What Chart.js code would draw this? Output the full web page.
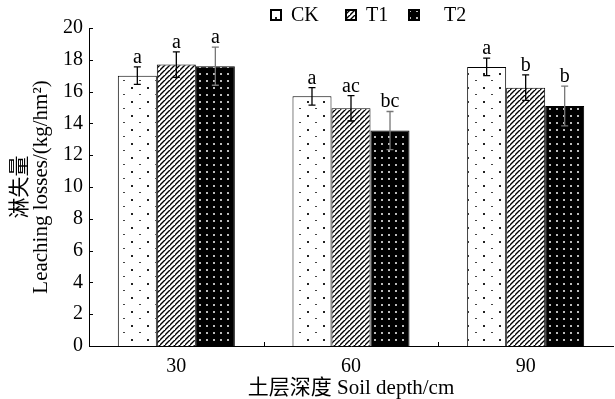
<!DOCTYPE html>
<html>
<head>
<meta charset="utf-8">
<script src="https://cdn.jsdelivr.net/npm/chart.js@4.4.1/dist/chart.umd.min.js"></script>
<style>
  html, body { margin: 0; padding: 0; background: #fff; }
  #wrap { width: 615px; height: 399px; }
</style>
</head>
<body>
<div id="wrap"><canvas id="leachChart"></canvas></div>
<script>
// Data
const depths = ['30', '60', '90'];
const treatments = ['CK', 'T1', 'T2'];
const ckValues = [17.0, 15.7, 17.55];
const t1Values = [17.7, 14.95, 16.25];
const t2Values = [17.6, 13.55, 15.1];
const ckErrors = [0.55, 0.55, 0.55];
const t1Errors = [0.8, 0.8, 0.8];
const t2Errors = [1.2, 1.2, 1.25];
const ckLetters = ['a', 'a', 'a'];
const t1Letters = ['a', 'ac', 'b'];
const t2Letters = ['a', 'bc', 'b'];
const yTicks = [0, 2, 4, 6, 8, 10, 12, 14, 16, 18, 20];

const serif = "'Liberation Serif', 'Noto Sans CJK SC', serif";

// Fill patterns for the bars
function makePattern(w, h, draw) {
    const c = document.createElement('canvas');
    c.width = w;
    c.height = h;
    const g = c.getContext('2d');
    draw(g, w, h);
    return document.createElement('canvas').getContext('2d').createPattern(c, 'repeat');
}

const ckPattern = makePattern(16, 14, function(g, w, h) {
    g.fillStyle = '#fff';
    g.fillRect(0, 0, w, h);
    g.fillStyle = '#222';
    g.fillRect(3, 3, 2, 2);
    g.fillStyle = '#444';
    g.fillRect(11, 10, 2, 1);
});

const t1Pattern = makePattern(5, 5, function(g, w, h) {
    g.fillStyle = '#fff';
    g.fillRect(0, 0, w, h);
    g.strokeStyle = '#000';
    g.lineWidth = 1.4;
    g.beginPath();
    g.moveTo(-1, h + 1);
    g.lineTo(w + 1, -1);
    g.moveTo(-1 - w, h + 1);
    g.lineTo(1, -1);
    g.moveTo(w - 1, 2 * h + 1);
    g.lineTo(2 * w + 1, h - 1);
    g.stroke();
});

const t2Pattern = makePattern(7, 7, function(g, w, h) {
    g.fillStyle = '#000';
    g.fillRect(0, 0, w, h);
    g.fillStyle = '#bbb';
    g.fillRect(3, 3, 2, 2);
});

const seriesValues = [ckValues, t1Values, t2Values];
const seriesErrors = [ckErrors, t1Errors, t2Errors];
const seriesLetters = [ckLetters, t1Letters, t2Letters];
const seriesFills = [ckPattern, t1Pattern, t2Pattern];
const errorColors = ['#000', '#000', '#777'];

// Legend placement (box left edge, text left edge), relative to the plot's left edge
const legendBoxX = [182, 257, 320];
const legendTextX = [202, 277, 355];

// Error bars, significance letters, inward tick marks and the legend row
const decorations = {
    id: 'decorations',
    afterDatasetsDraw(chart) {
        const ctx = chart.ctx;
        const y = chart.scales.y;
        const x = chart.scales.x;
        const area = chart.chartArea;
        ctx.save();
        seriesValues.forEach(function(vals, d) {
            const meta = chart.getDatasetMeta(d);
            meta.data.forEach(function(bar, i) {
                const top = y.getPixelForValue(vals[i] + seriesErrors[d][i]);
                const bot = y.getPixelForValue(vals[i] - seriesErrors[d][i]);
                ctx.strokeStyle = errorColors[d];
                ctx.lineWidth = 1.3;
                ctx.beginPath();
                ctx.moveTo(bar.x, top);
                ctx.lineTo(bar.x, bot);
                ctx.moveTo(bar.x - 3.5, top);
                ctx.lineTo(bar.x + 3.5, top);
                ctx.moveTo(bar.x - 3.5, bot);
                ctx.lineTo(bar.x + 3.5, bot);
                ctx.stroke();
                ctx.fillStyle = '#000';
                ctx.font = '20px ' + serif;
                ctx.textAlign = 'center';
                ctx.textBaseline = 'alphabetic';
                ctx.fillText(seriesLetters[d][i], bar.x, top - 4);
            });
        });
        ctx.strokeStyle = '#000';
        ctx.lineWidth = 1;
        ctx.beginPath();
        yTicks.forEach(function(t) {
            const py = Math.round(y.getPixelForValue(t)) + 0.5;
            ctx.moveTo(area.left, py);
            ctx.lineTo(area.left + 4, py);
        });
        for (let i = 0; i < depths.length - 1; i++) {
            const px = Math.round((x.getPixelForValue(i) + x.getPixelForValue(i + 1)) / 2) + 0.5;
            ctx.moveTo(px, area.bottom);
            ctx.lineTo(px, area.bottom - 4);
        }
        ctx.stroke();

        // legend
        treatments.forEach(function(name, d) {
            const bx = area.left + legendBoxX[d];
            ctx.fillStyle = seriesFills[d];
            ctx.fillRect(bx, 10, 10, 10);
            ctx.strokeStyle = '#000';
            ctx.lineWidth = 2;
            ctx.strokeRect(bx, 10, 10, 10);
            ctx.fillStyle = '#000';
            ctx.font = '20px ' + serif;
            ctx.textAlign = 'left';
            ctx.textBaseline = 'middle';
            ctx.fillText(name, area.left + legendTextX[d], 16);
        });
        ctx.restore();
    }
};

const ctx = document.getElementById('leachChart').getContext('2d');
const leachChart = new Chart(ctx, {
    type: 'bar',
    data: {
        labels: depths,
        datasets: treatments.map(function(name, d) {
            return {
                label: name,
                data: seriesValues[d],
                backgroundColor: seriesFills[d],
                borderColor: '#000',
                borderWidth: 1,
                borderSkipped: 'bottom',
                barPercentage: 1,
                categoryPercentage: 0.67
            };
        })
    },
    options: {
        responsive: true,
        maintainAspectRatio: false,
        animation: false,
        layout: {
            padding: { top: 28, right: 2, left: 10, bottom: 0 }
        },
        plugins: {
            tooltip: { enabled: false },
            legend: { display: false }
        },
        scales: {
            x: {
                grid: { display: false, drawTicks: false, tickLength: 0 },
                border: { display: true, color: '#000', width: 1 },
                ticks: {
                    color: '#000',
                    font: { family: serif, size: 20, lineHeight: 1.0 },
                    padding: 11
                },
                title: {
                    display: true,
                    text: '土层深度 Soil depth/cm',
                    color: '#000',
                    font: { family: serif, size: 21, lineHeight: 1.0 },
                    padding: { top: -10, bottom: 0 }
                }
            },
            y: {
                min: 0,
                max: 20,
                grid: { display: false, drawTicks: false, tickLength: 0 },
                border: { display: true, color: '#000', width: 1 },
                afterBuildTicks: function(axis) {
                    axis.ticks = yTicks.map(function(v) { return { value: v }; });
                },
                ticks: {
                    color: '#000',
                    font: { family: serif, size: 20 },
                    padding: 6
                },
                title: {
                    display: true,
                    text: ['淋失量', 'Leaching losses/(kg/hm²)'],
                    color: '#000',
                    font: { family: serif, size: 21, lineHeight: 1.0 },
                    padding: { top: 0, bottom: 5 }
                }
            }
        }
    },
    plugins: [decorations]
});
</script>
</body>
</html>
